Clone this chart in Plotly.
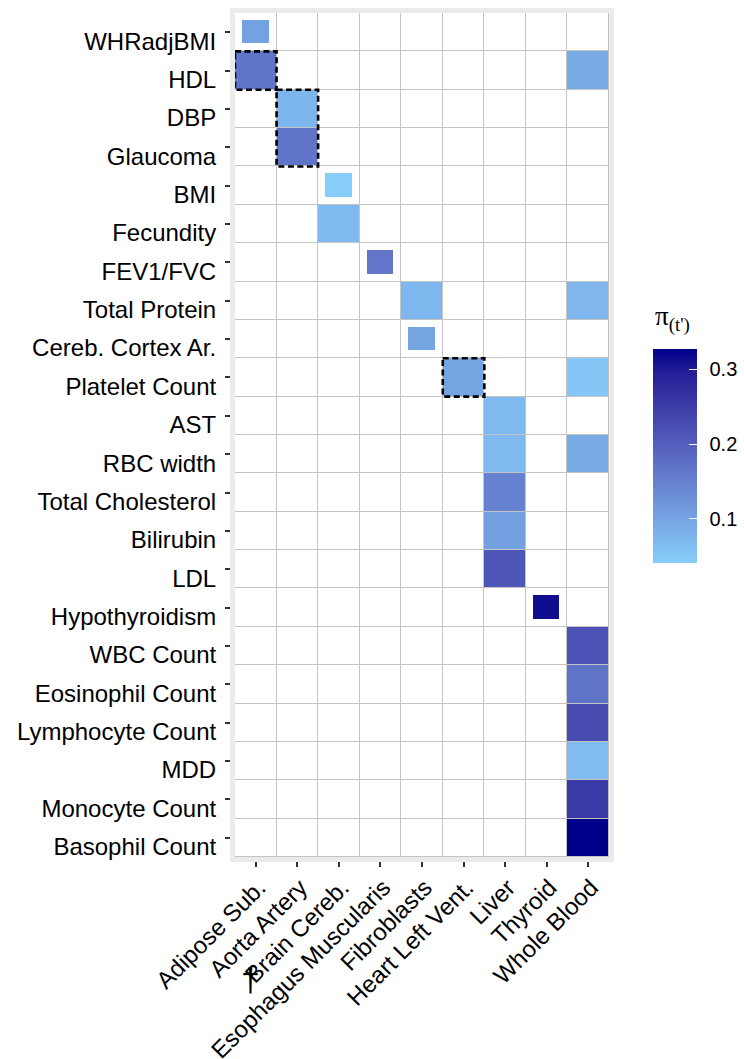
import numpy as np
import plotly.graph_objects as go

traits = ["WHRadjBMI", "HDL", "DBP", "Glaucoma", "BMI", "Fecundity", "FEV1/FVC",
          "Total Protein", "Cereb. Cortex Ar.", "Platelet Count", "AST", "RBC width",
          "Total Cholesterol", "Bilirubin", "LDL", "Hypothyroidism", "WBC Count",
          "Eosinophil Count", "Lymphocyte Count", "MDD", "Monocyte Count", "Basophil Count"]
tissues = ["Adipose Sub.", "Aorta Artery", "Brain Cereb.", "Esophagus Muscularis",
           "Fibroblasts", "Heart Left Vent.", "Liver", "Thyroid", "Whole Blood"]

cell_trait = ["WHRadjBMI", "HDL", "HDL", "DBP", "Glaucoma", "BMI", "Fecundity", "FEV1/FVC",
              "Total Protein", "Total Protein", "Cereb. Cortex Ar.", "Platelet Count",
              "Platelet Count", "AST", "RBC width", "RBC width", "Total Cholesterol",
              "Bilirubin", "LDL", "Hypothyroidism", "WBC Count", "Eosinophil Count",
              "Lymphocyte Count", "MDD", "Monocyte Count", "Basophil Count"]
cell_tissue = ["Adipose Sub.", "Adipose Sub.", "Whole Blood", "Aorta Artery", "Aorta Artery",
               "Brain Cereb.", "Brain Cereb.", "Esophagus Muscularis", "Fibroblasts",
               "Whole Blood", "Fibroblasts", "Heart Left Vent.", "Whole Blood", "Liver",
               "Liver", "Whole Blood", "Liver", "Liver", "Liver", "Thyroid", "Whole Blood",
               "Whole Blood", "Whole Blood", "Whole Blood", "Whole Blood", "Whole Blood"]
cell_value = [0.104, 0.167, 0.090, 0.076, 0.167, 0.042, 0.070, 0.165, 0.073, 0.074,
              0.100, 0.098, 0.050, 0.070, 0.070, 0.090, 0.150, 0.105, 0.213, 0.313,
              0.218, 0.170, 0.227, 0.065, 0.255, 0.327]
cell_small = [True, False, False, False, False, True, False, True, False, False,
              True, False, False, False, False, False, False, False, False, True,
              False, False, False, False, False, False]

box_tissue = ["Adipose Sub.", "Aorta Artery", "Heart Left Vent."]
box_first = ["HDL", "DBP", "Platelet Count"]
box_last = ["HDL", "Glaucoma", "Platelet Count"]

cmin, cmax = 0.041, 0.327
cbar_ticks = [0.1, 0.2, 0.3]


# ggplot-like Lab interpolation between lightskyblue and darkblue
def srgb_to_lab(h):
    c = np.array([int(h[i:i + 2], 16) / 255 for i in (1, 3, 5)])
    c = np.where(c > 0.04045, ((c + 0.055) / 1.055) ** 2.4, c / 12.92)
    M = np.array([[0.4124, 0.3576, 0.1805], [0.2126, 0.7152, 0.0722], [0.0193, 0.1192, 0.9505]])
    xyz = M @ c / np.array([0.95047, 1.0, 1.08883])
    f = np.where(xyz > 0.008856, np.cbrt(xyz), 7.787 * xyz + 16 / 116)
    return np.array([116 * f[1] - 16, 500 * (f[0] - f[1]), 200 * (f[1] - f[2])])


def lab_to_srgb(lab):
    L, a, b = lab
    fy = (L + 16) / 116
    fx = fy + a / 500
    fz = fy - b / 200
    f = np.array([fx, fy, fz])
    xyz = np.where(f ** 3 > 0.008856, f ** 3, (f - 16 / 116) / 7.787) * np.array([0.95047, 1.0, 1.08883])
    Mi = np.array([[3.2406, -1.5372, -0.4986], [-0.9689, 1.8758, 0.0415], [0.0557, -0.2040, 1.0570]])
    c = Mi @ xyz
    c = np.where(c > 0.0031308, 1.055 * np.clip(c, 0, None) ** (1 / 2.4) - 0.055, 12.92 * c)
    c = np.clip(c, 0, 1)
    return "#%02x%02x%02x" % tuple(int(round(v * 255)) for v in c)


lo, hi = srgb_to_lab("#87CEFA"), srgb_to_lab("#00008B")
colorscale = [[t, lab_to_srgb(lo + (hi - lo) * t)] for t in np.linspace(0, 1, 11)]

nT, nS = len(traits), len(tissues)
z_full = np.full((nT, nS), np.nan)
z_small = np.full((nT, nS), np.nan)
for tr, ti, v, sm in zip(cell_trait, cell_tissue, cell_value, cell_small):
    (z_small if sm else z_full)[traits.index(tr), tissues.index(ti)] = v

FONT = "Liberation Sans, Arial, Helvetica, sans-serif"

fig = go.Figure()
fig.add_trace(go.Heatmap(x=tissues, y=traits, z=np.zeros((nT, nS)),
                         colorscale=[[0, "white"], [1, "white"]], showscale=False,
                         xgap=1, ygap=1, hoverinfo="skip"))
fig.add_trace(go.Heatmap(x=tissues, y=traits, z=z_full, coloraxis="coloraxis",
                         xgap=1, ygap=1))
fig.add_trace(go.Heatmap(x=tissues, y=traits, z=z_small, coloraxis="coloraxis2",
                         xgap=15, ygap=15))

for ti, a, b in zip(box_tissue, box_first, box_last):
    xi = tissues.index(ti)
    fig.add_shape(type="rect", xref="x", yref="y",
                  x0=xi - 0.5, x1=xi + 0.5,
                  y0=traits.index(a) - 0.5, y1=traits.index(b) + 0.5,
                  line=dict(color="black", width=2.6, dash="6px,3.5px"))

fig.add_annotation(text="\u2020", xref="paper", yref="paper", x=0.012, y=-0.170,
                   showarrow=False, font=dict(size=34, family=FONT, color="black"))
fig.add_annotation(text="π<sub>(t')</sub>", xref="paper", yref="paper",
                   x=1.1188, xanchor="left", y=0.638, yanchor="middle", showarrow=False,
                   font=dict(size=27, family="Liberation Serif, Times New Roman, serif",
                             color="black"))

cb_geom = dict(x=1.092, xanchor="left", xref="paper", y=0.475, yanchor="middle",
               thickness=44, len=234, lenmode="pixels", outlinewidth=0,
               tickvals=cbar_ticks)
fig.update_layout(
    width=744, height=1059,
    margin=dict(l=235, r=134.5, t=13, b=202, autoexpand=False),
    paper_bgcolor="white", plot_bgcolor="#c4c4c4",
    font=dict(family=FONT, color="black"),
    coloraxis=dict(
        cmin=cmin, cmax=cmax, colorscale=colorscale,
        colorbar=dict(**cb_geom, ticks="outside", tickcolor="rgba(0,0,0,0)", ticklen=9,
                      tickfont=dict(size=20, family=FONT, color="black")),
    ),
    coloraxis2=dict(
        cmin=cmin, cmax=cmax, colorscale=colorscale,
        colorbar=dict(**cb_geom, ticks="inside", tickcolor="white", ticklen=8,
                      tickwidth=1, showticklabels=False),
    ),
)
fig.update_xaxes(type="category", categoryorder="array", categoryarray=tissues,
                 range=[-0.5, nS - 0.5], showgrid=False, zeroline=False,
                 showline=True, linecolor="#ebebeb", linewidth=5, mirror=True,
                 ticks="outside", ticklen=5, tickwidth=2, tickcolor="#333333",
                 ticklabelshift=3, ticklabelstandoff=-3,
                 tickangle=-45, tickfont=dict(size=24, family=FONT, color="black"))
fig.update_yaxes(type="category", categoryorder="array", categoryarray=traits,
                 range=[nT - 0.5, -0.5], showgrid=False, zeroline=False,
                 showline=True, linecolor="#ebebeb", linewidth=5, mirror=True,
                 ticks="outside", ticklen=5, tickwidth=2, tickcolor="#333333",
                 ticklabelstandoff=4, ticklabelshift=-9,
                 tickfont=dict(size=24, family=FONT, color="black"))

fig.write_html("out.html", config={"displayModeBar": False},
               post_script="document.body.style.margin='0px';")
